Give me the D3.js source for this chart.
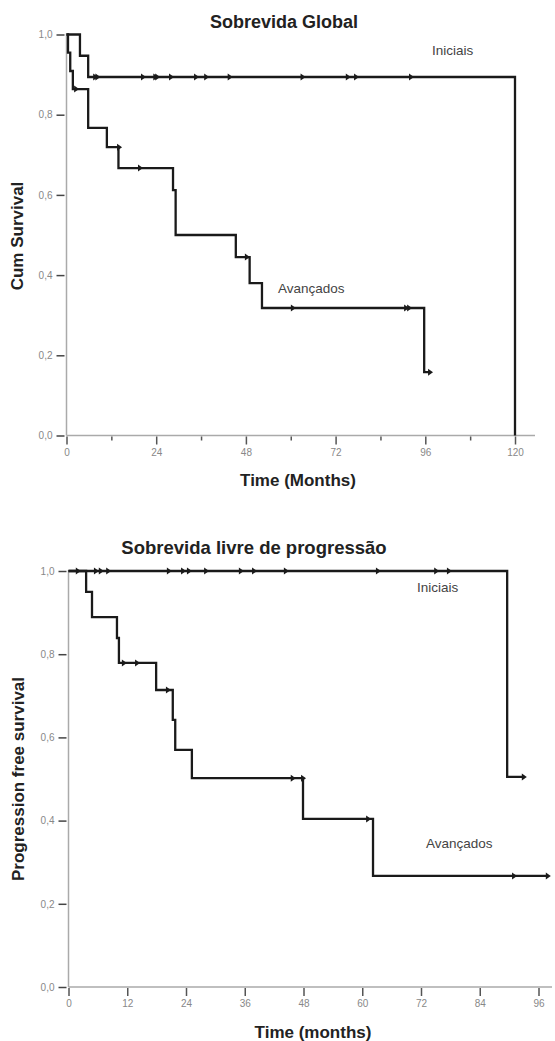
<!DOCTYPE html>
<html>
<head>
<meta charset="utf-8">
<script src="https://cdn.jsdelivr.net/npm/d3@7"></script>
<style>
  body { margin: 0; background: #fff; }
  svg { display: block; font-family: "Liberation Sans", Arial, sans-serif; }
</style>
</head>
<body>
<div id="chart"></div>
<script>
// ---- data: Sobrevida Global ----
const osInicTimes = [0, 3.6, 5.8, 120];
const osInicSurv = [1, 0.947, 0.894, 0];
const osInicCensor = [7.4, 8.0, 20.2, 23.5, 24.0, 27.7, 34.4, 37.1, 43.4, 62.9, 75.0, 77.2, 91.9];

const osAvanTimes = [0, 0.4, 1.0, 1.7, 5.8, 10.8, 13.9, 28.5, 29.2, 45.3, 49.0, 52.3, 95.7, 97.0];
const osAvanSurv = [1, 0.955, 0.909, 0.864, 0.767, 0.719, 0.667, 0.612, 0.5, 0.445, 0.38, 0.318, 0.158, 0.158];
const osAvanCensor = [2.3, 13.8, 19.4, 48.0, 60.3, 90.6, 91.4, 97.0];

// ---- data: Sobrevida livre de progressão ----
const pfsInicTimes = [0, 89.6, 92.8];
const pfsInicSurv = [1, 0.505, 0.505];
const pfsInicCensor = [1.7, 5.4, 6.4, 7.9, 20.3, 23.2, 24.4, 27.9, 35.0, 37.7, 44.2, 63.0, 74.9, 77.5, 92.8];

const pfsAvanTimes = [0, 3.6, 4.8, 9.9, 10.3, 17.9, 21.3, 21.8, 25.2, 47.9, 62.2, 97.7];
const pfsAvanSurv = [1, 0.95, 0.889, 0.839, 0.779, 0.714, 0.642, 0.57, 0.502, 0.404, 0.267, 0.267];
const pfsAvanCensor = [11.1, 13.8, 20.1, 45.6, 47.7, 61.0, 90.8, 97.7];

const yTicks = [0, 0.2, 0.4, 0.6, 0.8, 1.0];
const osXMajor = [0, 24, 48, 72, 96, 120];
const osXMinor = [12, 36, 60, 84, 108];
const pfsXTicks = [0, 12, 24, 36, 48, 60, 72, 84, 96];

const svg = d3.select("#chart").append("svg")
  .attr("width", 555)
  .attr("height", 1041);

const fmt = d => d3.format(".1f")(d).replace(".", ",");

function survAt(times, surv, t) {
  let s = surv[0];
  for (let i = 0; i < times.length; i++) {
    if (times[i] <= t) s = surv[i];
  }
  return s;
}

function drawCurve(x, y, times, surv, censor) {
  const pts = times.map((t, i) => [t, surv[i]]);
  const line = d3.line()
    .x(d => x(d[0]))
    .y(d => y(d[1]))
    .curve(d3.curveStepAfter);
  svg.append("path")
    .datum(pts)
    .attr("d", line)
    .attr("fill", "none")
    .attr("stroke", "#1a1a1a")
    .attr("stroke-width", 2.3);

  // censor marks (small right-pointing flags)
  svg.append("g").selectAll("path")
    .data(censor)
    .join("path")
    .attr("transform", d => `translate(${x(d)},${y(survAt(times, surv, d))})`)
    .attr("d", "M-1,-3.5 L-1,3.5 L4,0 Z")
    .attr("fill", "#1a1a1a");
}

function drawPanel(opt) {
  const x = d3.scaleLinear().domain(opt.xDomain).range(opt.xRange);
  const y = d3.scaleLinear().domain([0, 1]).range(opt.yRange);

  // axis lines
  svg.append("line")
    .attr("x1", opt.xRange[0]).attr("x2", opt.xRange[0])
    .attr("y1", opt.yRange[0]).attr("y2", opt.yRange[1] - 1)
    .attr("stroke", "#aaa").attr("stroke-width", 1.5);
  svg.append("line")
    .attr("x1", opt.xRange[0]).attr("x2", opt.xEnd)
    .attr("y1", opt.yRange[0]).attr("y2", opt.yRange[0])
    .attr("stroke", "#aaa").attr("stroke-width", 1.5);

  // y axis
  const gy = svg.append("g")
    .attr("transform", `translate(${opt.xRange[0] - 2},0)`)
    .call(d3.axisLeft(y).tickValues(yTicks).tickFormat(fmt).tickSize(8).tickPadding(4));
  gy.select(".domain").remove();
  gy.selectAll(".tick line").attr("stroke", "#444").attr("stroke-width", 1.5);
  gy.selectAll(".tick text").attr("fill", "#888").style("font-size", "10px");

  // x axis
  const gx = svg.append("g")
    .attr("transform", `translate(0,${opt.yRange[0] + 1})`)
    .call(d3.axisBottom(x).tickValues(opt.xMajor).tickFormat(d3.format("d")).tickSize(8).tickPadding(4));
  gx.select(".domain").remove();
  gx.selectAll(".tick line").attr("stroke", "#555").attr("stroke-width", 1.5);
  gx.selectAll(".tick text").attr("fill", "#888").style("font-size", "10px");

  if (opt.xMinor) {
    const gm = svg.append("g")
      .attr("transform", `translate(0,${opt.yRange[0] + 1})`)
      .call(d3.axisBottom(x).tickValues(opt.xMinor).tickFormat("").tickSize(4));
    gm.select(".domain").remove();
    gm.selectAll(".tick line").attr("stroke", "#555").attr("stroke-width", 1.5);
  }

  drawCurve(x, y, opt.inic.times, opt.inic.surv, opt.inic.censor);
  drawCurve(x, y, opt.avan.times, opt.avan.surv, opt.avan.censor);

  // titles and labels
  svg.append("text")
    .attr("x", opt.titleX).attr("y", opt.titleY)
    .attr("text-anchor", "middle")
    .style("font-weight", "bold").style("font-size", opt.titleSize + "px")
    .attr("fill", "#222")
    .text(opt.title);

  svg.append("text")
    .attr("transform", `translate(${opt.yLabelX},${opt.yLabelY}) rotate(-90)`)
    .attr("text-anchor", "middle")
    .style("font-weight", "bold").style("font-size", "17px")
    .attr("fill", "#222")
    .text(opt.yLabel);

  svg.append("text")
    .attr("x", opt.xLabelX).attr("y", opt.xLabelY)
    .attr("text-anchor", "middle")
    .style("font-weight", "bold").style("font-size", "17px")
    .attr("fill", "#222")
    .text(opt.xLabel);

  opt.notes.forEach(n => {
    svg.append("text")
      .attr("x", n.x).attr("y", n.y)
      .style("font-size", "13.5px")
      .attr("fill", "#444")
      .text(n.text);
  });
}

drawPanel({
  xDomain: [0, 120], xRange: [66.5, 515], xEnd: 535, yRange: [435.5, 34.5],
  xMajor: osXMajor, xMinor: osXMinor,
  inic: { times: osInicTimes, surv: osInicSurv, censor: osInicCensor },
  avan: { times: osAvanTimes, surv: osAvanSurv, censor: osAvanCensor },
  title: "Sobrevida Global", titleX: 284, titleY: 28, titleSize: 18,
  yLabel: "Cum Survival", yLabelX: 23, yLabelY: 236,
  xLabel: "Time (Months)", xLabelX: 298, xLabelY: 486,
  notes: [
    { text: "Iniciais", x: 432, y: 55 },
    { text: "Avançados", x: 278, y: 293 }
  ]
});

drawPanel({
  xDomain: [0, 96], xRange: [68.5, 538.5], xEnd: 552, yRange: [987, 571],
  xMajor: pfsXTicks, xMinor: null,
  inic: { times: pfsInicTimes, surv: pfsInicSurv, censor: pfsInicCensor },
  avan: { times: pfsAvanTimes, surv: pfsAvanSurv, censor: pfsAvanCensor },
  title: "Sobrevida livre de progressão", titleX: 254, titleY: 554, titleSize: 18.5,
  yLabel: "Progression free survival", yLabelX: 24, yLabelY: 779,
  xLabel: "Time (months)", xLabelX: 313, xLabelY: 1038,
  notes: [
    { text: "Iniciais", x: 417, y: 592 },
    { text: "Avançados", x: 426, y: 848 }
  ]
});
</script>
</body>
</html>
